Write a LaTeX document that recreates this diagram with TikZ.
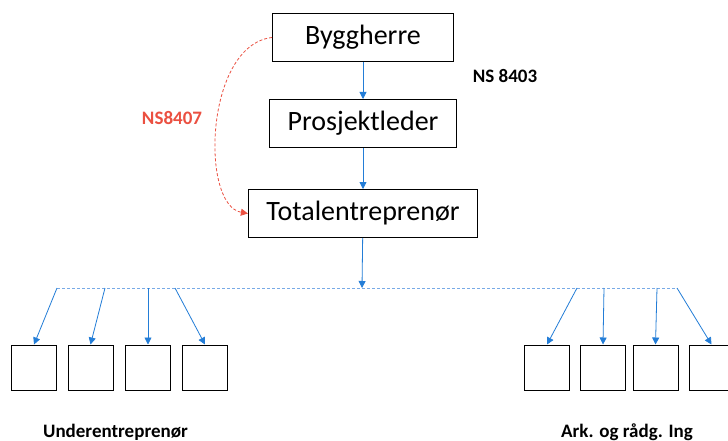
\documentclass[tikz,border=0pt]{standalone}
\usepackage{fontspec}
\setmainfont{Carlito}
\usepackage{tikz}
\usetikzlibrary{shapes,arrows.meta}
\definecolor{linkblue}{RGB}{35,125,215}
\definecolor{lineblue}{RGB}{120,170,230}
\definecolor{nsred}{RGB}{235,80,65}
\tikzstyle{process} = [rectangle, minimum width=181pt, minimum height=48pt, inner xsep=18pt, text centered, draw=black, line width=1pt, font=\fontsize{28}{30}\selectfont]
\tikzstyle{party} = [rectangle, minimum size=45pt, draw=black, line width=1pt]
\tikzstyle{label} = [font=\bfseries\fontsize{19}{21}\selectfont]
\tikzstyle{arrow} = [linkblue, line width=0.8pt, -{Triangle[length=7pt,width=7pt]}]
\begin{document}
\begin{tikzpicture}[x=1pt, y=-1pt, node distance=88pt]
        \useasboundingbox[fill=white] (0,0) rectangle (728,441);
        \node (bygg) [process] at (363,37.5) {Byggherre};
        \node (pl) [process, below of = bygg, node distance=86pt] {Prosjektleder};
        \node (te) [process, below of = pl, node distance=90pt] {Totalentreprenør};
        \node (ns3) [label] at (505,76) {NS 8403};
        \node (ns7) [label, text=nsred] at (172,118) {NS8407};
        % distribution line
        \coordinate (hub) at (362,288);
        \coordinate (l1) at (57,288);
        \coordinate (l2) at (105,288);
        \coordinate (l3) at (148,288);
        \coordinate (l4) at (175,288);
        \coordinate (r1) at (577,288);
        \coordinate (r2) at (604,288);
        \coordinate (r3) at (657,288);
        \coordinate (r4) at (677,288);
        \draw [lineblue, line width=0.9pt, densely dashed] (l1) -- (r4);
        % sub contractors
        \node (u1) [party] at (34,367.5) {};
        \node (u2) [party] at (90.5,367.5) {};
        \node (u3) [party] at (148,367.5) {};
        \node (u4) [party] at (205,367.5) {};
        \node (a1) [party] at (547,367.5) {};
        \node (a2) [party] at (603,367.5) {};
        \node (a3) [party] at (655.5,367.5) {};
        \node (a4) [party] at (711.5,367.5) {};
        \node (under) [label] at (115.5,432) {Underentreprenør};
        \node (ark) [label] at (627,432) {Ark. og rådg. Ing};
        \draw [arrow] (bygg) -- (pl);
        \draw [arrow] (pl) -- (te);
        \draw [arrow] (te) -- (hub);
        \draw [arrow] (l1) -- (u1.north);
        \draw [arrow] (l2) -- (u2.north);
        \draw [arrow] (l3) -- (u3.north);
        \draw [arrow] (l4) -- (u4.north);
        \draw [arrow] (r1) -- (a1.north);
        \draw [arrow] (r2) -- (a2.north);
        \draw [arrow] (r3) -- (a3.north);
        \draw [arrow] (r4) -- (a4.north);
        \draw [nsred, line width=0.8pt, densely dashed, -{Triangle[length=7pt,width=7pt]}] (bygg.west) .. controls (205,45) and (200,205) .. (te.west);
\end{tikzpicture}
\end{document}
